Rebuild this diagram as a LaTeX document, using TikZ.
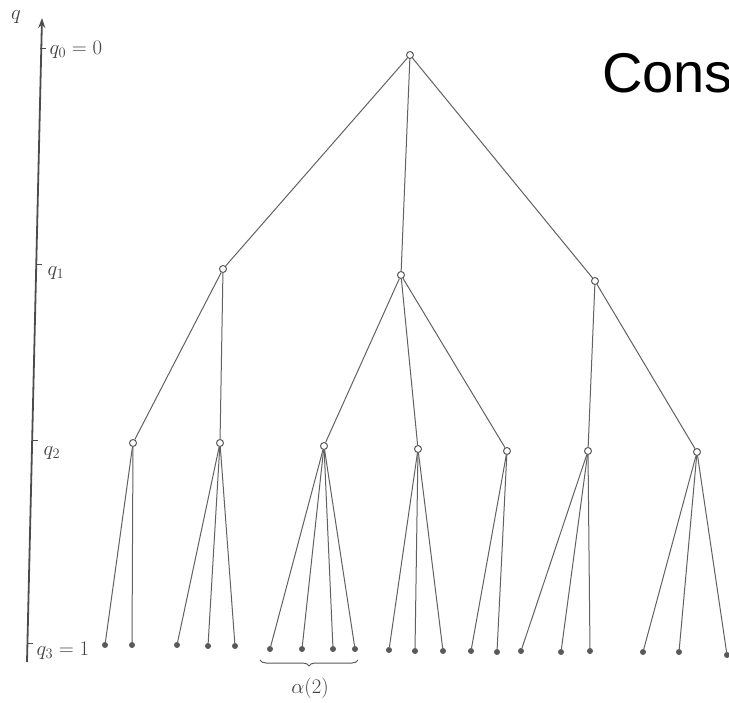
\documentclass[tikz,border=0pt]{standalone}
\usepackage{fontspec}
\newfontfamily\consfont{Liberation Sans}
\usetikzlibrary{decorations.pathreplacing,arrows.meta}
\begin{document}
\begin{tikzpicture}[x=1pt,y=-1pt,
  inner/.style={circle,draw=black!65,line width=1pt,fill=white,inner sep=0pt,minimum size=7pt},
  leaf/.style={circle,fill=black!65,inner sep=0pt,minimum size=6pt},
  edge/.style={draw=black!62,line width=1pt},
  lab/.style={text=black!75,font=\fontsize{20}{20}\selectfont},
  axis/.style={draw=black!70,line width=1.8pt,-{Stealth[length=10pt,width=7pt]}},
  tick/.style={draw=black!70,line width=1pt}]
\useasboundingbox (0,0) rectangle (729,703);
\clip (0,0) rectangle (729,703);
% axis
\coordinate (ab) at (27,662);
\coordinate (at) at (42,18);
\draw[axis] (ab) -- (at);
\coordinate (t0a) at (40.4,49); \coordinate (t0b) at (46,49);
\coordinate (t1a) at (36.7,265); \coordinate (t1b) at (42,265);
\coordinate (t2a) at (32.6,441); \coordinate (t2b) at (38,441);
\coordinate (t3a) at (27.4,643); \coordinate (t3b) at (33,643);
\draw[tick] (t0a) -- (t0b); \draw[tick] (t1a) -- (t1b);
\draw[tick] (t2a) -- (t2b); \draw[tick] (t3a) -- (t3b);
\node[lab] (lq) at (16,17) {$q$};
\node[lab,anchor=west] (l0) at (46,50) {$q_0=0$};
\node[lab,anchor=west] (l1) at (44,273) {$q_1$};
\node[lab,anchor=west] (l2) at (40,453) {$q_2$};
\node[lab,anchor=west] (l3) at (33,651) {$q_3=1$};
% title
\node[anchor=base west,inner sep=0pt,font=\consfont\fontsize{56}{56}\selectfont] (cons) at (602,93) {Cons};
% tree nodes
\node[inner] (r) at (410,55) {};
\node[inner] (A) at (223,269) {};
\node[inner] (B) at (401,275) {};
\node[inner] (C) at (595,281) {};
\node[inner] (A1) at (133,443) {};
\node[inner] (A2) at (220,443) {};
\node[inner] (B1) at (324,446) {};
\node[inner] (B2) at (418,449) {};
\node[inner] (B3) at (507,451) {};
\node[inner] (C1) at (588,451) {};
\node[inner] (C2) at (697,452) {};
% leaves
\node[leaf] (a11) at (105,645) {};
\node[leaf] (a12) at (132,645) {};
\node[leaf] (a21) at (177,645) {};
\node[leaf] (a22) at (208,646) {};
\node[leaf] (a23) at (235,646) {};
\node[leaf] (b11) at (270,649) {};
\node[leaf] (b12) at (302,649) {};
\node[leaf] (b13) at (333,649) {};
\node[leaf] (b14) at (355,649) {};
\node[leaf] (b21) at (389,650) {};
\node[leaf] (b22) at (415,651) {};
\node[leaf] (b23) at (443,651) {};
\node[leaf] (b31) at (471,651) {};
\node[leaf] (b32) at (497,652) {};
\node[leaf] (c11) at (521,651) {};
\node[leaf] (c12) at (561,652) {};
\node[leaf] (c13) at (590,651) {};
\node[leaf] (c21) at (643,652) {};
\node[leaf] (c22) at (679,652) {};
\node[leaf] (c23) at (727,655) {};
% edges
\foreach \p/\c in {r/A,r/B,r/C,A/A1,A/A2,B/B1,B/B2,B/B3,C/C1,C/C2,
  A1/a11,A1/a12,A2/a21,A2/a22,A2/a23,B1/b11,B1/b12,B1/b13,B1/b14,
  B2/b21,B2/b22,B2/b23,B3/b31,B3/b32,C1/c11,C1/c12,C1/c13,C2/c21,C2/c22,C2/c23}
  \draw[edge] (\p) -- (\c);
% brace
\coordinate (br1) at (260,660);
\coordinate (br2) at (358,660);
\draw[draw=black!65,line width=1pt,decorate,decoration={brace,amplitude=6pt,mirror}] (br1) -- (br2);
\node[lab] (alpha) at (310,688) {$\alpha(2)$};
\end{tikzpicture}
\end{document}
